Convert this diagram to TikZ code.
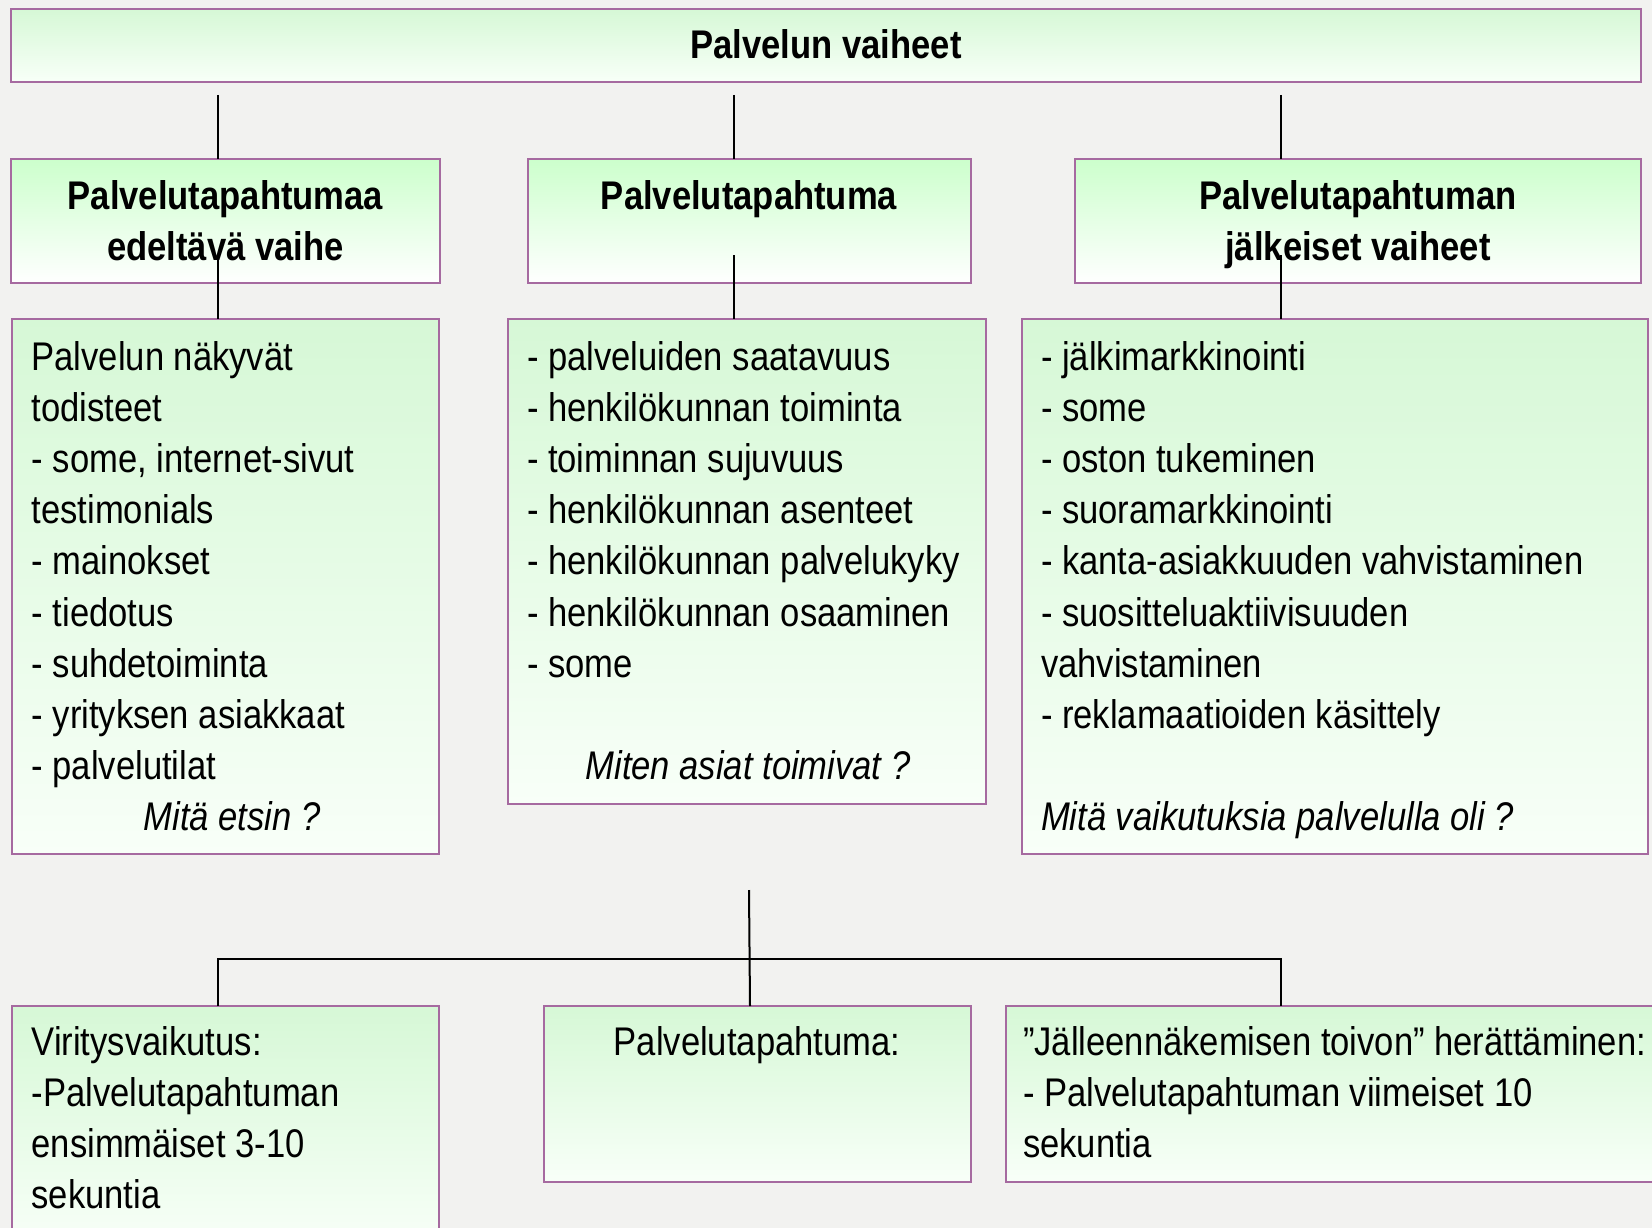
\documentclass[tikz,border=0pt]{standalone}
\usepackage{fontspec}
\setmainfont{Liberation Sans}[FakeStretch=0.865]
\definecolor{bg}{RGB}{242,242,240}
\definecolor{bord}{RGB}{166,106,160}
\definecolor{gtop}{RGB}{204,255,204}
\definecolor{gtopb}{RGB}{214,248,214}
\definecolor{gbotb}{RGB}{248,255,248}
\newcommand\fsz{\fontsize{40}{51.2}\selectfont}
\begin{document}
\begin{tikzpicture}[x=1pt,y=-1pt,
 box/.style={draw=bord,line width=2.5pt,rectangle,inner sep=0pt,outer sep=0pt,anchor=north west,top color=gtopb,bottom color=gbotb},
 hbox/.style={box,top color=gtop,bottom color=white},
 conn/.style={draw=black,line width=2pt},
 txt/.style={inner sep=0pt,outer sep=0pt,anchor=base west,font=\fsz}]
\fill[bg] (0,0) rectangle (1652,1228);
\useasboundingbox (0,0) rectangle (1652,1228);
\clip (0,0) rectangle (1652,1228);
% boxes
\node[box,minimum width=1630pt,minimum height=73pt] (T) at (11,9) {};
\node[hbox,minimum width=429pt,minimum height=124pt] (A) at (11,159) {};
\node[hbox,minimum width=443pt,minimum height=124pt] (B) at (528,159) {};
\node[hbox,minimum width=566pt,minimum height=124pt] (C) at (1075,159) {};
\node[box,minimum width=427pt,minimum height=535pt] (D) at (12,319) {};
\node[box,minimum width=478pt,minimum height=485pt] (E) at (508,319) {};
\node[box,minimum width=626pt,minimum height=535pt] (F) at (1022,319) {};
\node[box,minimum width=427pt,minimum height=240pt] (G) at (12,1006) {};
\node[box,minimum width=427pt,minimum height=176pt] (H) at (544,1006) {};
\node[box,minimum width=680pt,minimum height=176pt] (I) at (1006,1006) {};
% texts
\node[txt,anchor=base] (Tt) at (826,59) {\bfseries Palvelun vaiheet};
\node[txt] (At) at (11,209) {\parbox[t]{429pt}{\centering\bfseries Palvelutapahtumaa\\edeltävä vaihe}};
\node[txt,anchor=base] (Bt) at (749,209) {\bfseries Palvelutapahtuma};
\node[txt] (Ct) at (1075,209) {\parbox[t]{566pt}{\centering\bfseries Palvelutapahtuman\\jälkeiset vaiheet}};
\node[txt] (Dt) at (31.6,370) {\parbox[t]{420pt}{\raggedright Palvelun näkyvät\\todisteet\\- some, internet-sivut\\testimonials\\- mainokset\\- tiedotus\\- suhdetoiminta\\- yrityksen asiakkaat\\- palvelutilat}};
\node[txt,anchor=base] (Dq) at (232,830.8) {\itshape Mitä etsin ?};
\node[txt] (Et) at (527,370) {\parbox[t]{460pt}{\raggedright - palveluiden saatavuus\\- henkilökunnan toiminta\\- toiminnan sujuvuus\\- henkilökunnan asenteet\\- henkilökunnan palvelukyky\\- henkilökunnan osaaminen\\- some}};
\node[txt,anchor=base] (Eq) at (748,779.6) {\itshape Miten asiat toimivat ?};
\node[txt] (Ft) at (1041,370) {\parbox[t]{620pt}{\raggedright - jälkimarkkinointi\\- some\\- oston tukeminen\\- suoramarkkinointi\\- kanta-asiakkuuden vahvistaminen\\- suositteluaktiivisuuden\\vahvistaminen\\- reklamaatioiden käsittely}};
\node[txt] (Fq) at (1041,830.8) {\itshape Mitä vaikutuksia palvelulla oli ?};
\node[txt] (Gt) at (31.6,1055) {\parbox[t]{420pt}{\raggedright Viritysvaikutus:\\-Palvelutapahtuman\\ensimmäiset 3-10\\sekuntia}};
\node[txt,anchor=base] (Ht) at (757,1055) {Palvelutapahtuma:};
\node[txt] (It) at (1023,1055) {\parbox[t]{800pt}{\raggedright ”Jälleennäkemisen toivon” herättäminen:\\- Palvelutapahtuman viimeiset 10\\sekuntia}};
% connectors
\coordinate (a1) at (218,95);
\coordinate (b1) at (734,95);
\coordinate (c1) at (1281,95);
\draw[conn] (a1) -- (a1 |- A.north);
\draw[conn] (b1) -- (b1 |- B.north);
\draw[conn] (c1) -- (c1 |- C.north);
\coordinate (a2) at (218,258);
\coordinate (b2) at (734,255);
\coordinate (c2) at (1281,255);
\draw[conn] (a2) -- (a2 |- D.north);
\draw[conn] (b2) -- (b2 |- E.north);
\draw[conn] (c2) -- (c2 |- F.north);
\coordinate (bt) at (749,890);
\coordinate (bb) at (750,1006);
\draw[conn] (bt) -- (bb);
\coordinate (hl) at (218,959);
\coordinate (hr) at (1281,959);
\draw[conn] (hl |- G.north) -- (hl) -- (hr) -- (hr |- I.north);
\end{tikzpicture}
\end{document}
